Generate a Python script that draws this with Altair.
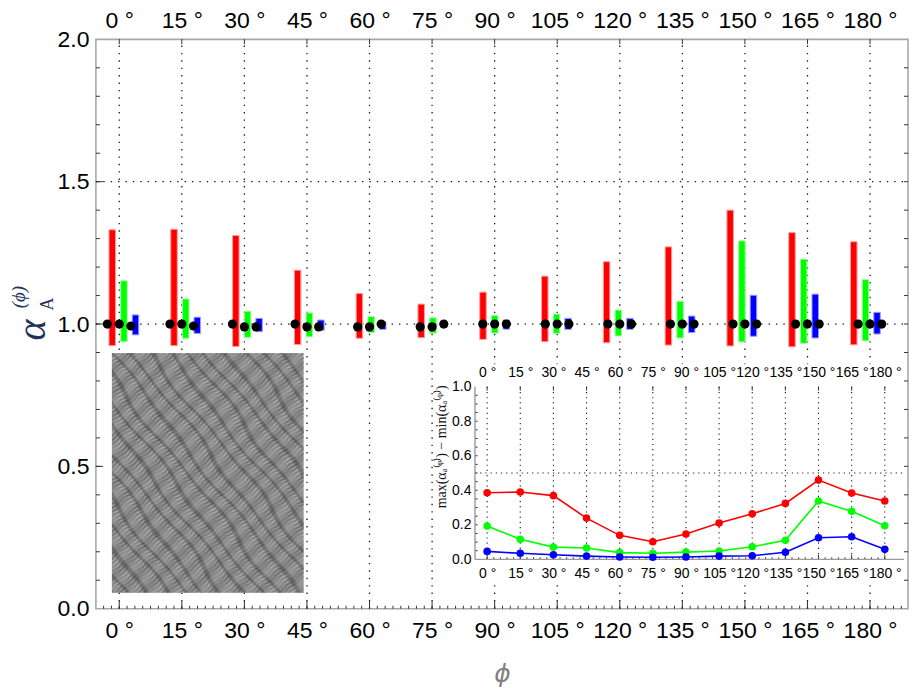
import base64
import struct
import zlib

import numpy as np
import pandas as pd
import altair as alt

# ---------------- data ----------------
PHI = [0, 15, 30, 45, 60, 75, 90, 105, 120, 135, 150, 165, 180]
SERIES = ["red", "green", "blue"]

RED_MAX = [1.331, 1.333, 1.311, 1.189, 1.107, 1.070, 1.112, 1.168, 1.219, 1.271, 1.400, 1.321, 1.289]
RED_MIN = [0.924, 0.924, 0.921, 0.928, 0.950, 0.952, 0.946, 0.938, 0.934, 0.926, 0.923, 0.920, 0.927]
GREEN_MAX = [1.152, 1.088, 1.045, 1.039, 1.026, 1.022, 1.030, 1.035, 1.049, 1.080, 1.292, 1.228, 1.156]
GREEN_MIN = [0.938, 0.950, 0.953, 0.955, 0.970, 0.968, 0.968, 0.967, 0.958, 0.951, 0.937, 0.932, 0.941]
BLUE_MAX = [1.032, 1.024, 1.020, 1.014, 1.008, 1.005, 1.014, 1.020, 1.020, 1.028, 1.101, 1.105, 1.041]
BLUE_MIN = [0.962, 0.967, 0.973, 0.978, 0.981, 0.990, 0.982, 0.981, 0.981, 0.970, 0.957, 0.951, 0.965]

RED_DOT = [1.0, 1.0, 1.0, 1.0, 0.99, 0.99, 1.0, 1.0, 1.0, 1.0, 1.0, 1.0, 1.0]
GREEN_DOT = [1.0, 1.0, 0.99, 0.99, 0.99, 0.99, 1.0, 1.0, 1.0, 1.0, 1.0, 1.0, 1.0]
BLUE_DOT = [0.993, 0.993, 0.99, 0.99, 1.0, 1.0, 1.0, 1.0, 1.0, 1.0, 1.0, 1.0, 1.0]

RANGE_RED = [0.386, 0.390, 0.369, 0.239, 0.139, 0.102, 0.147, 0.210, 0.264, 0.324, 0.459, 0.384, 0.338]
RANGE_GREEN = [0.193, 0.116, 0.071, 0.066, 0.039, 0.035, 0.042, 0.048, 0.073, 0.110, 0.338, 0.278, 0.195]
RANGE_BLUE = [0.046, 0.035, 0.027, 0.019, 0.014, 0.012, 0.014, 0.019, 0.021, 0.041, 0.125, 0.131, 0.058]

MAIN_Y_LABELS = [0.0, 0.5, 1.0, 1.5, 2.0]
MAIN_Y_GRID = [1.0, 1.5]
MAIN_Y_MAJOR = [0.5, 1.0, 1.5]
INSET_Y_LABELS = [0.0, 0.2, 0.4, 0.6, 0.8, 1.0]
INSET_Y_GRID = [0.5]

# ---------------- tables ----------------
rows = []
for s, lo, hi, dot in [("red", RED_MIN, RED_MAX, RED_DOT),
                       ("green", GREEN_MIN, GREEN_MAX, GREEN_DOT),
                       ("blue", BLUE_MIN, BLUE_MAX, BLUE_DOT)]:
    for p, a, b, d in zip(PHI, lo, hi, dot):
        rows.append({"phi": p, "series": s, "lo": a, "hi": b, "dot": d})
df_bars = pd.DataFrame(rows)

rows = []
for s, r in [("red", RANGE_RED), ("green", RANGE_GREEN), ("blue", RANGE_BLUE)]:
    for p, v in zip(PHI, r):
        rows.append({"phi": p, "series": s, "range": v})
df_inset = pd.DataFrame(rows)

df_phi = pd.DataFrame({"phi": PHI})
df_main_minor_x = pd.DataFrame({"v": [i * 1.875 for i in range(-2, 101)]})
df_main_minor_y = pd.DataFrame({"v": [i / 10 for i in range(1, 20)]})
df_main_major_y = pd.DataFrame({"v": MAIN_Y_MAJOR})
df_main_hgrid = pd.DataFrame({"v": MAIN_Y_GRID})
df_inset_minor_x = pd.DataFrame({"v": [i * 3.0 for i in range(0, 61)]})
df_inset_minor_y = pd.DataFrame({"v": [i / 20 for i in range(1, 20)]})
df_inset_hgrid = pd.DataFrame({"v": INSET_Y_GRID})
one = pd.DataFrame({"k": [0]})

# ---------------- decorative texture standing in for the photo ----------------
def texture_data_url(w=192, h=240):
    yy, xx = np.mgrid[0:h, 0:w].astype(float)
    th = np.deg2rad(52)
    d = xx * np.cos(th) + yy * np.sin(th)
    c = -xx * np.sin(th) + yy * np.cos(th)
    band_phase = (2 * np.pi * c / 15.0 + 0.7 * np.sin(2 * np.pi * d / 90.0)
                  + 0.9 * np.sin(2 * np.pi * c / 47.0 + d / 30.0))
    band = np.sin(band_phase)
    ridge = np.sin(2 * np.pi * d / 3.6 + 1.2 * np.sin(c / 3.0))
    g = (140 - 34 * np.clip(np.cos(band_phase) - 0.55, 0, 1) * 2.2
         + 26 * ridge * (0.3 + 0.7 * np.clip(band, 0, 1))
         + 10 * np.sin(2 * np.pi * (xx + yy) / 23.0))
    g = np.clip(g, 30, 225).astype(np.uint8)
    raw = b"".join(b"\x00" + g[r].tobytes() for r in range(h))

    def chunk(tag, data):
        return (struct.pack(">I", len(data)) + tag + data
                + struct.pack(">I", zlib.crc32(tag + data) & 0xFFFFFFFF))

    png = (b"\x89PNG\r\n\x1a\n"
           + chunk(b"IHDR", struct.pack(">IIBBBBB", w, h, 8, 0, 0, 0, 0))
           + chunk(b"IDAT", zlib.compress(raw, 9))
           + chunk(b"IEND", b""))
    return "data:image/png;base64," + base64.b64encode(png).decode("ascii")

df_img = pd.DataFrame({"url": [texture_data_url()]})

# ---------------- scales ----------------
XM = alt.Scale(domain=[-5.6, 189.1], nice=False, zero=False)
YM = alt.Scale(domain=[0, 2], nice=False, zero=False)
XI = alt.Scale(domain=[-5.5, 188.7], range=[379.5, 809], nice=False, zero=False)
YI = alt.Scale(domain=[0, 1], range=[520.6, 347.7], nice=False, zero=False)
COL = alt.Scale(domain=SERIES, range=["#ff0000", "#00ff00", "#0000ff"])
EDGE = alt.Scale(domain=SERIES, range=["#ff9c9c", "#9cff9c", "#9c9cff"])

OFFSET = "datum.series == 'red' ? -2.85 : (datum.series == 'blue' ? 2.8 : 0)"
DEG = "datum.value + ' °'"
DOT = dict(strokeDash=[1.4, 6], strokeWidth=1.3, color="#1a1a1a")
DOT_IN = dict(strokeDash=[1.2, 4], strokeWidth=1.1, color="#1a1a1a")
TICK = dict(color="#333333", strokeWidth=1)

# ---------------- main panel ----------------
main_vgrid = alt.Chart(df_phi).mark_rule(**DOT).encode(
    x=alt.X("phi:Q", scale=XM, axis=alt.Axis(
        orient="bottom", values=PHI, labelExpr=DEG, labelFontSize=23,
        ticks=False, domain=False, grid=False, labelPadding=11,
        labelFlush=False, labelOverlap=False,
        title="ϕ", titleFont="DejaVu Sans", titleFontSize=25,
        titleFontStyle="italic", titleFontWeight="normal",
        titleColor="#808080", titlePadding=19)),
    y=alt.YDatum(0, scale=YM, axis=alt.Axis(
        orient="left", values=MAIN_Y_LABELS, format=".1f", labelFontSize=23,
        ticks=False, domain=False, grid=False, labelPadding=7,
        labelFlush=False, title=None)),
    y2=alt.Y2Datum(2),
)

main_hgrid = alt.Chart(df_main_hgrid).mark_rule(**DOT).encode(
    y=alt.Y("v:Q", scale=YM, axis=None),
    x=alt.XDatum(-5.6, scale=XM, axis=None),
    x2=alt.X2Datum(189.1),
)

bars = alt.Chart(df_bars).transform_calculate(xx="datum.phi + (" + OFFSET + ")").mark_bar(
    size=6.5, strokeWidth=1
).encode(
    x=alt.X("xx:Q", scale=XM, axis=None),
    y=alt.Y("lo:Q", scale=YM, axis=None),
    y2="hi:Q",
    color=alt.Color("series:N", scale=COL, legend=None),
    stroke=alt.Stroke("series:N", scale=EDGE, legend=None),
)

dots = alt.Chart(df_bars).transform_calculate(xx="datum.phi + (" + OFFSET + ")").mark_circle(
    size=85, color="black", opacity=1
).encode(
    x=alt.X("xx:Q", scale=XM, axis=None),
    y=alt.Y("dot:Q", scale=YM, axis=None),
)

photo = alt.Chart(df_img).mark_image(
    width=192, height=240, aspect=False, align="left", baseline="top"
).encode(
    x=alt.XDatum(-1.77, scale=XM, axis=None),
    y=alt.YDatum(0.898, scale=YM, axis=None),
    url="url:N",
)

inset_bg = alt.Chart(one).mark_rect(color="white").encode(
    x=alt.XDatum(-23.4, scale=XI, axis=None),
    x2=alt.X2Datum(189.4),
    y=alt.YDatum(1.13, scale=YI, axis=None),
    y2=alt.Y2Datum(-0.13),
)

main_top = alt.Chart(df_phi).mark_rule(**TICK).encode(
    x=alt.X("phi:Q", scale=XM, axis=alt.Axis(
        orient="top", values=PHI, labelExpr=DEG, labelFontSize=23,
        ticks=False, domain=False, grid=False, labelPadding=7,
        labelFlush=False, labelOverlap=False, title=None)),
    y=alt.YDatum(2, scale=YM, axis=None),
    y2=alt.Y2Datum(1.9825),
)

main_bottom_major = alt.Chart(df_phi).mark_rule(**TICK).encode(
    x=alt.X("phi:Q", scale=XM, axis=None),
    y=alt.YDatum(0, scale=YM, axis=None),
    y2=alt.Y2Datum(0.028),
)

main_bottom_minor = alt.Chart(df_main_minor_x).mark_rule(**TICK).encode(
    x=alt.X("v:Q", scale=XM, axis=None),
    y=alt.YDatum(0, scale=YM, axis=None),
    y2=alt.Y2Datum(0.0105),
)

main_left_minor = alt.Chart(df_main_minor_y).mark_rule(**TICK).encode(
    y=alt.Y("v:Q", scale=YM, axis=None),
    x=alt.XDatum(-5.6, scale=XM, axis=None),
    x2=alt.X2Datum(-4.64),
)

main_left_major = alt.Chart(df_main_major_y).mark_rule(**TICK).encode(
    y=alt.Y("v:Q", scale=YM, axis=None),
    x=alt.XDatum(-5.6, scale=XM, axis=None),
    x2=alt.X2Datum(-3.9),
)

main_right_minor = alt.Chart(df_main_minor_y).mark_rule(**TICK).encode(
    y=alt.Y("v:Q", scale=YM, axis=None),
    x=alt.XDatum(189.1, scale=XM, axis=None),
    x2=alt.X2Datum(188.14),
)

# ---------------- inset panel ----------------
inset_vgrid = alt.Chart(df_phi).mark_rule(**DOT_IN).encode(
    x=alt.X("phi:Q", scale=XI, axis=alt.Axis(
        orient="bottom", offset=-49.4, values=PHI, labelExpr=DEG,
        labelFontSize=14, ticks=False, domain=False, grid=False,
        labelPadding=7, labelFlush=False, labelOverlap=False,
        title=None, zindex=1)),
    y=alt.YDatum(0, scale=YI, axis=alt.Axis(
        orient="left", offset=-379.5, values=INSET_Y_LABELS, format=".1f",
        labelFontSize=14, ticks=False, domain=False, grid=False,
        labelPadding=4, labelFlush=False, title=None, zindex=1)),
    y2=alt.Y2Datum(1),
)

inset_hgrid = alt.Chart(df_inset_hgrid).mark_rule(**DOT_IN).encode(
    y=alt.Y("v:Q", scale=YI, axis=None),
    x=alt.XDatum(-5.5, scale=XI, axis=None),
    x2=alt.X2Datum(188.7),
)

inset_top = alt.Chart(df_phi).mark_rule(**TICK).encode(
    x=alt.X("phi:Q", scale=XI, axis=alt.Axis(
        orient="top", offset=-347.7, values=PHI, labelExpr=DEG,
        labelFontSize=14, ticks=False, domain=False, grid=False,
        labelPadding=7, labelFlush=False, labelOverlap=False,
        title=None, zindex=1)),
    y=alt.YDatum(1, scale=YI, axis=None),
    y2=alt.Y2Datum(0.977),
)

inset_bottom_major = alt.Chart(df_phi).mark_rule(**TICK).encode(
    x=alt.X("phi:Q", scale=XI, axis=None),
    y=alt.YDatum(0, scale=YI, axis=None),
    y2=alt.Y2Datum(0.025),
)

inset_bottom_minor = alt.Chart(df_inset_minor_x).mark_rule(**TICK).encode(
    x=alt.X("v:Q", scale=XI, axis=None),
    y=alt.YDatum(0, scale=YI, axis=None),
    y2=alt.Y2Datum(0.012),
)

inset_left_minor = alt.Chart(df_inset_minor_y).mark_rule(**TICK).encode(
    y=alt.Y("v:Q", scale=YI, axis=None),
    x=alt.XDatum(-5.5, scale=XI, axis=None),
    x2=alt.X2Datum(-4.3),
)

inset_frame_left = alt.Chart(one).mark_rule(color="#9a9a9a", strokeWidth=1.4).encode(
    x=alt.XDatum(-5.5, scale=XI, axis=None),
    y=alt.YDatum(0, scale=YI, axis=None),
    y2=alt.Y2Datum(1),
)

inset_frame_bottom = alt.Chart(one).mark_rule(color="#9a9a9a", strokeWidth=1.4).encode(
    y=alt.YDatum(0, scale=YI, axis=None),
    x=alt.XDatum(-5.5, scale=XI, axis=None),
    x2=alt.X2Datum(188.7),
)

inset_lines = alt.Chart(df_inset).mark_line(strokeWidth=1.6).encode(
    x=alt.X("phi:Q", scale=XI, axis=None),
    y=alt.Y("range:Q", scale=YI, axis=None),
    color=alt.Color("series:N", scale=COL, legend=None),
    detail="series:N",
)

inset_points = alt.Chart(df_inset).mark_circle(size=58, opacity=1).encode(
    x=alt.X("phi:Q", scale=XI, axis=None),
    y=alt.Y("range:Q", scale=YI, axis=None),
    color=alt.Color("series:N", scale=COL, legend=None),
)

# ---------------- axis titles built from text ----------------
title_alpha = alt.Chart(one).mark_text(
    text="α", font="Liberation Serif", fontStyle="italic", fontSize=40,
    angle=270, align="center", baseline="middle", color="#22325a"
).encode(x=alt.value(-63), y=alt.value(291))

title_sub = alt.Chart(one).mark_text(
    text="A", font="Liberation Serif", fontSize=18,
    angle=270, align="center", baseline="middle", color="#22325a"
).encode(x=alt.value(-48), y=alt.value(265))

title_sup = alt.Chart(one).mark_text(
    text="(ϕ)", font="Liberation Serif", fontStyle="italic", fontSize=19,
    angle=270, align="center", baseline="middle", color="#22325a"
).encode(x=alt.value(-77), y=alt.value(258))

inset_title = alt.Chart(one).mark_text(
    text="max(αₐ⁽ᵠ⁾) − min(αₐ⁽ᵠ⁾)", font="Liberation Serif", fontSize=14,
    angle=270, align="center", baseline="middle", color="#111111"
).encode(x=alt.value(346), y=alt.value(408))

chart = alt.layer(
    main_vgrid, main_hgrid, bars, dots, photo, inset_bg,
    main_top, main_bottom_major, main_bottom_minor, main_left_minor,
    main_left_major, main_right_minor,
    inset_vgrid, inset_hgrid, inset_top, inset_bottom_major, inset_bottom_minor,
    inset_left_minor, inset_frame_left, inset_frame_bottom,
    inset_lines, inset_points,
    title_alpha, title_sub, title_sup, inset_title,
).resolve_scale(
    x="independent", y="independent"
).resolve_axis(
    x="independent", y="independent"
).properties(
    width=813, height=570,
    padding={"left": 88, "top": 31, "right": 2, "bottom": 79},
    autosize=alt.AutoSizeParams(type="none"),
    background="white",
).configure_view(
    stroke="#a8a8a8", strokeWidth=1.6
).configure_axis(
    labelFont="Liberation Sans", labelColor="black"
)

chart.save("out.html", embed_options={"renderer": "svg", "actions": False})
